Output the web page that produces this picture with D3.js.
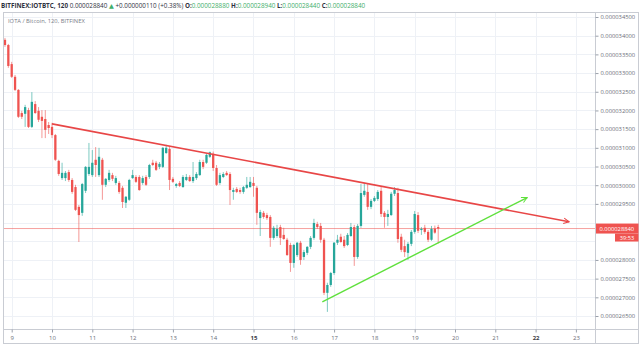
<!DOCTYPE html>
<html>
<head>
<meta charset="utf-8">
<script src="https://cdn.jsdelivr.net/npm/d3@7"></script>
<style>
  html, body { margin: 0; padding: 0; background: #fff; }
  svg { display: block; font-family: "Open Sans", "DejaVu Sans", sans-serif; }
</style>
</head>
<body>
<svg id="chart" width="640" height="346"></svg>
<script>
// IOTA / BTC on Bitfinex, 2-hour bars. Prices in satoshi (1e-8 BTC).
const symbol = "BITFINEX:IOTBTC";
const interval = "120";
const subtitle = "IOTA / Bitcoin, 120, BITFINEX";
const barStart = new Date(2019, 9, 8, 20, 0);   // open time of the first bar
const barHours = 2;

// [open, high, low, close]
const bars = [
  [3389,3394,3370,3375],[3375,3378,3314,3319],[3324,3330,3287,3290],[3290,3295,3252,3255],
  [3255,3257,3180,3183],[3193,3199,3177,3183],[3191,3215,3156,3209],[3201,3207,3153,3156],
  [3156,3249,3153,3223],[3217,3225,3191,3193],[3199,3209,3169,3175],[3183,3201,3126,3172],
  [3177,3201,3126,3148],[3161,3169,3137,3153],[3156,3167,3126,3134],[3134,3137,3065,3068],
  [3065,3068,3025,3030],[3019,3060,3014,3033],[3019,3038,3011,3033],[3035,3041,3009,3014],
  [3014,3019,2977,2982],[2995,3001,2931,2934],[2942,2947,2848,2920],[2926,3006,2918,3003],
  [2985,3051,2979,3049],[3030,3113,3025,3049],[3027,3094,3022,3060],[3068,3102,3022,3054],
  [3027,3100,3022,3076],[3068,3073,2961,3001],[3001,3019,2995,3017],[3014,3041,3009,3033],
  [3027,3033,3011,3017],[3006,3025,3001,3019],[3006,3011,2977,2982],[2993,2998,2939,2955],
  [2953,2971,2939,2969],[2961,3017,2958,3014],[3019,3041,3017,3027],[3022,3027,3006,3009],
  [3022,3027,2985,2987],[3006,3025,3001,3019],[3022,3027,2998,3001],[3022,3057,3017,3054],
  [3060,3068,3051,3054],[3060,3065,3038,3041],[3049,3062,3043,3057],[3049,3102,3046,3100],
  [3086,3108,3084,3100],[3097,3102,2987,3014],[3017,3022,3006,3009],[2998,3006,2993,3003],
  [3006,3011,2995,2998],[2995,3027,2993,3022],[3014,3030,3011,3022],[3022,3027,3009,3011],
  [3011,3062,3006,3022],[3019,3035,3014,3030],[3027,3068,3025,3062],[3062,3068,3043,3049],
  [3060,3084,3057,3081],[3076,3090,3073,3088],[3084,3090,3038,3046],[3046,3054,2998,3001],
  [3006,3033,3001,3027],[3022,3035,3019,3030],[3033,3038,3025,3027],[3030,3035,2947,2987],
  [2982,2993,2961,2987],[2990,2995,2979,2982],[2987,2993,2977,2982],[2982,2998,2977,2995],
  [2993,3022,2990,3001],[2995,3022,2993,3009],[3006,3022,2969,2998],[2993,2998,2894,2926],
  [2912,2934,2864,2928],[2926,2931,2910,2915],[2920,2926,2907,2912],[2915,2920,2835,2859],
  [2859,2891,2854,2886],[2864,2894,2859,2883],[2888,2894,2840,2859],[2867,2886,2854,2856],
  [2854,2859,2811,2813],[2840,2846,2768,2792],[2792,2843,2779,2840],[2813,2848,2808,2846],
  [2846,2851,2787,2800],[2808,2827,2800,2821],[2819,2837,2813,2835],[2835,2864,2829,2859],
  [2859,2910,2854,2899],[2896,2902,2883,2888],[2891,2899,2846,2854],[2854,2859,2706,2712],
  [2712,2739,2661,2733],[2733,2768,2728,2765],[2765,2848,2760,2846],[2846,2867,2840,2854],
  [2862,2870,2846,2848],[2854,2864,2832,2837],[2840,2872,2837,2867],[2864,2899,2862,2888],
  [2888,2894,2784,2808],[2808,2896,2803,2891],[2891,3003,2886,2979],[2974,3006,2969,2985],
  [2982,3003,2934,2942],[2942,2963,2936,2958],[2958,2971,2955,2966],[2963,2987,2958,2982],
  [2985,2995,2915,2923],[2926,2931,2886,2915],[2915,2934,2891,2923],[2920,2982,2918,2977],
  [2977,2995,2971,2987],[2979,2993,2846,2856],[2862,2870,2821,2827],[2837,2854,2808,2821],
  [2819,2848,2800,2843],[2843,2880,2837,2875],[2875,2931,2870,2923],[2920,2928,2872,2878],
  [2880,2888,2867,2883],[2886,2894,2870,2875],[2875,2880,2848,2854],[2854,2891,2851,2883],
  [2884,2892,2870,2873],[2888,2894,2844,2884]
];

const priceTicks = [2650,2700,2750,2800,2850,2900,2950,3000,3050,3100,3150,3200,3250,3300,3350,3400,3450];
const dayTicks = [9,10,11,12,13,14,15,16,17,18,19,20,21,22,23];
const boldDays = [15, 22];
const countdown = "39:53";

// Drawn trend lines: [time, price] end points
const resistance = [[new Date(2019, 9, 10, 0), 3164], [new Date(2019, 9, 22, 20), 2902]];
const support    = [[new Date(2019, 9, 16, 17), 2688], [new Date(2019, 9, 21, 19), 2967]];

const upColor = "#26a69a", downColor = "#ef5350";
const fmt = v => (v / 1e8).toFixed(9);

const svg = d3.select("#chart");
const frame = { left: 3, right: 639, top: 12.5, bottom: 343.5, axisX: 595.5, axisY: 329.5 };

const x = d3.scaleTime()
  .domain([new Date(2019, 9, 9), new Date(2019, 9, 23)])
  .range([11.7, 575.9]);
const y = d3.scaleLinear().domain([2650, 3450]).range([316, 17]);

const barTime = i => new Date(barStart.getTime() + i * barHours * 3600e3);
const step = x(barTime(1)) - x(barTime(0));
const bodyW = step * 0.68;

const last = bars[bars.length - 1];
const lastPrice = last[3];
const prevClose = bars[bars.length - 2][3];
const py = y(lastPrice);

// clip to the pane
const defs = svg.append("defs");
defs.append("clipPath").attr("id", "pane")
  .append("rect")
  .attr("x", frame.left).attr("y", frame.top)
  .attr("width", frame.axisX - frame.left).attr("height", frame.axisY - frame.top);

[["arrowRed", "#e84646"], ["arrowGreen", "#5fe03c"]].forEach(([id, col]) => {
  defs.append("marker").attr("id", id)
    .attr("viewBox", "0 0 10 10").attr("refX", 9).attr("refY", 5)
    .attr("markerWidth", 7).attr("markerHeight", 7)
    .attr("markerUnits", "userSpaceOnUse")
    .attr("orient", "auto")
    .append("path").attr("d", "M1,1 L9,5 L1,9")
    .attr("fill", "none").attr("stroke", col).attr("stroke-width", 1.4);
});

// grid
const grid = svg.append("g").attr("clip-path", "url(#pane)");
grid.selectAll("line.h").data(priceTicks).join("line")
  .attr("x1", frame.left).attr("x2", frame.axisX)
  .attr("y1", d => Math.round(y(d)) + 0.5).attr("y2", d => Math.round(y(d)) + 0.5)
  .attr("stroke", "#eef1f6");
grid.selectAll("line.v").data(dayTicks).join("line")
  .attr("x1", d => Math.round(x(new Date(2019, 9, d))) + 0.5)
  .attr("x2", d => Math.round(x(new Date(2019, 9, d))) + 0.5)
  .attr("y1", frame.top).attr("y2", frame.axisY)
  .attr("stroke", "#eef1f6");

// last price line
grid.append("line")
  .attr("x1", frame.left).attr("x2", frame.axisX)
  .attr("y1", py).attr("y2", py)
  .attr("stroke", downColor).attr("stroke-opacity", 0.55).attr("stroke-width", 1);

// candles
const pane = svg.append("g").attr("clip-path", "url(#pane)");
const candle = pane.selectAll("g.c").data(bars).join("g");
candle.append("line")
  .attr("x1", (d, i) => x(barTime(i))).attr("x2", (d, i) => x(barTime(i)))
  .attr("y1", d => y(d[1])).attr("y2", d => y(d[2]))
  .attr("stroke", d => d[3] >= d[0] ? upColor : downColor)
  .attr("stroke-opacity", 0.6).attr("stroke-width", 1);
candle.append("rect")
  .attr("x", (d, i) => x(barTime(i)) - bodyW / 2)
  .attr("width", bodyW)
  .attr("y", d => y(Math.max(d[0], d[3])))
  .attr("height", d => Math.max(1, Math.abs(y(d[0]) - y(d[3]))))
  .attr("fill", d => d[3] >= d[0] ? upColor : downColor);

// trend lines
const line = d3.line().x(d => x(d[0])).y(d => y(d[1]));
pane.append("path").datum(resistance).attr("d", line)
  .attr("stroke", "#e84646").attr("stroke-width", 1.6).attr("fill", "none")
  .attr("marker-end", "url(#arrowRed)");
pane.append("path").datum(support).attr("d", line)
  .attr("stroke", "#5fe03c").attr("stroke-width", 1.4).attr("fill", "none")
  .attr("marker-end", "url(#arrowGreen)");

// frame and separators
svg.append("rect")
  .attr("x", frame.left + 0.5).attr("y", frame.top)
  .attr("width", frame.right - frame.left - 1).attr("height", frame.bottom - frame.top)
  .attr("fill", "none").attr("stroke", "#c9ccd3");
svg.append("line").attr("x1", frame.axisX).attr("x2", frame.axisX)
  .attr("y1", frame.top).attr("y2", frame.bottom).attr("stroke", "#c9ccd3");
svg.append("line").attr("x1", frame.left).attr("x2", frame.right)
  .attr("y1", frame.axisY).attr("y2", frame.axisY).attr("stroke", "#c9ccd3");

// price axis (labels under the price tag are covered by it)
const visibleTicks = priceTicks.filter(t => Math.abs(y(t) - py) > 13);
const yAxis = svg.append("g")
  .attr("transform", `translate(${frame.axisX},0)`)
  .call(d3.axisRight(y).tickValues(visibleTicks).tickFormat(fmt).tickSize(3).tickPadding(2));
yAxis.select(".domain").remove();
yAxis.selectAll("line").attr("stroke", "#9aa0aa");
yAxis.selectAll("text").attr("font-size", 5.8).attr("fill", "#6a6d78")
  .attr("font-family", "'Open Sans', 'DejaVu Sans', sans-serif");

// time axis
const xAxis = svg.append("g")
  .attr("transform", `translate(0,${frame.axisY})`)
  .call(d3.axisBottom(x)
    .tickValues(dayTicks.map(d => new Date(2019, 9, d)))
    .tickFormat(d3.timeFormat("%-d")).tickSize(3).tickPadding(3));
xAxis.select(".domain").remove();
xAxis.selectAll("line").attr("stroke", "#9aa0aa");
xAxis.selectAll("text").attr("font-size", 6)
  .attr("font-family", "'Open Sans', 'DejaVu Sans', sans-serif")
  .attr("font-weight", d => boldDays.includes(d.getDate()) ? "bold" : "normal")
  .attr("fill", d => boldDays.includes(d.getDate()) ? "#3a3d45" : "#6a6d78");

// last price tag and countdown
svg.append("rect").attr("x", frame.axisX + 0.5).attr("y", py - 5)
  .attr("width", frame.right - frame.axisX - 1).attr("height", 10).attr("fill", downColor);
svg.append("text").attr("x", frame.axisX + 4).attr("y", py + 2.1)
  .attr("font-size", 5.8).attr("fill", "#fff").text(fmt(lastPrice));
svg.append("rect").attr("x", 615).attr("y", py + 5)
  .attr("width", frame.right - 615.5).attr("height", 8).attr("fill", downColor);
svg.append("text").attr("x", 627).attr("y", py + 11).attr("text-anchor", "middle")
  .attr("font-size", 5.6).attr("fill", "#fff").text(countdown);

// header legend
const change = lastPrice - prevClose;
const pct = change / prevClose * 100;
const green = "#3fae6a", ink = "#2f3240";
const head = svg.append("text").attr("x", 1).attr("y", 8).attr("font-size", 6.3).attr("fill", ink);
head.append("tspan").attr("font-weight", "bold").text(`${symbol}, ${interval}`);
head.append("tspan").text(` ${fmt(lastPrice)} `);
head.append("tspan").attr("fill", green).text(change >= 0 ? "▲" : "▼");
head.append("tspan").text(` ${change >= 0 ? "+" : "-"}${fmt(Math.abs(change))} (${change >= 0 ? "+" : "-"}${Math.abs(pct).toFixed(2)}%) `);
[["O", last[0]], ["H", last[1]], ["L", last[2]], ["C", last[3]]].forEach(([k, v], j) => {
  head.append("tspan").attr("font-weight", "bold").text(`${j ? " " : ""}${k}:`);
  head.append("tspan").attr("fill", green).text(fmt(v));
});

svg.append("text").attr("x", 8).attr("y", 22.5).attr("font-size", 5.8).attr("fill", "#7a7d88")
  .text(subtitle);
</script>
</body>
</html>
